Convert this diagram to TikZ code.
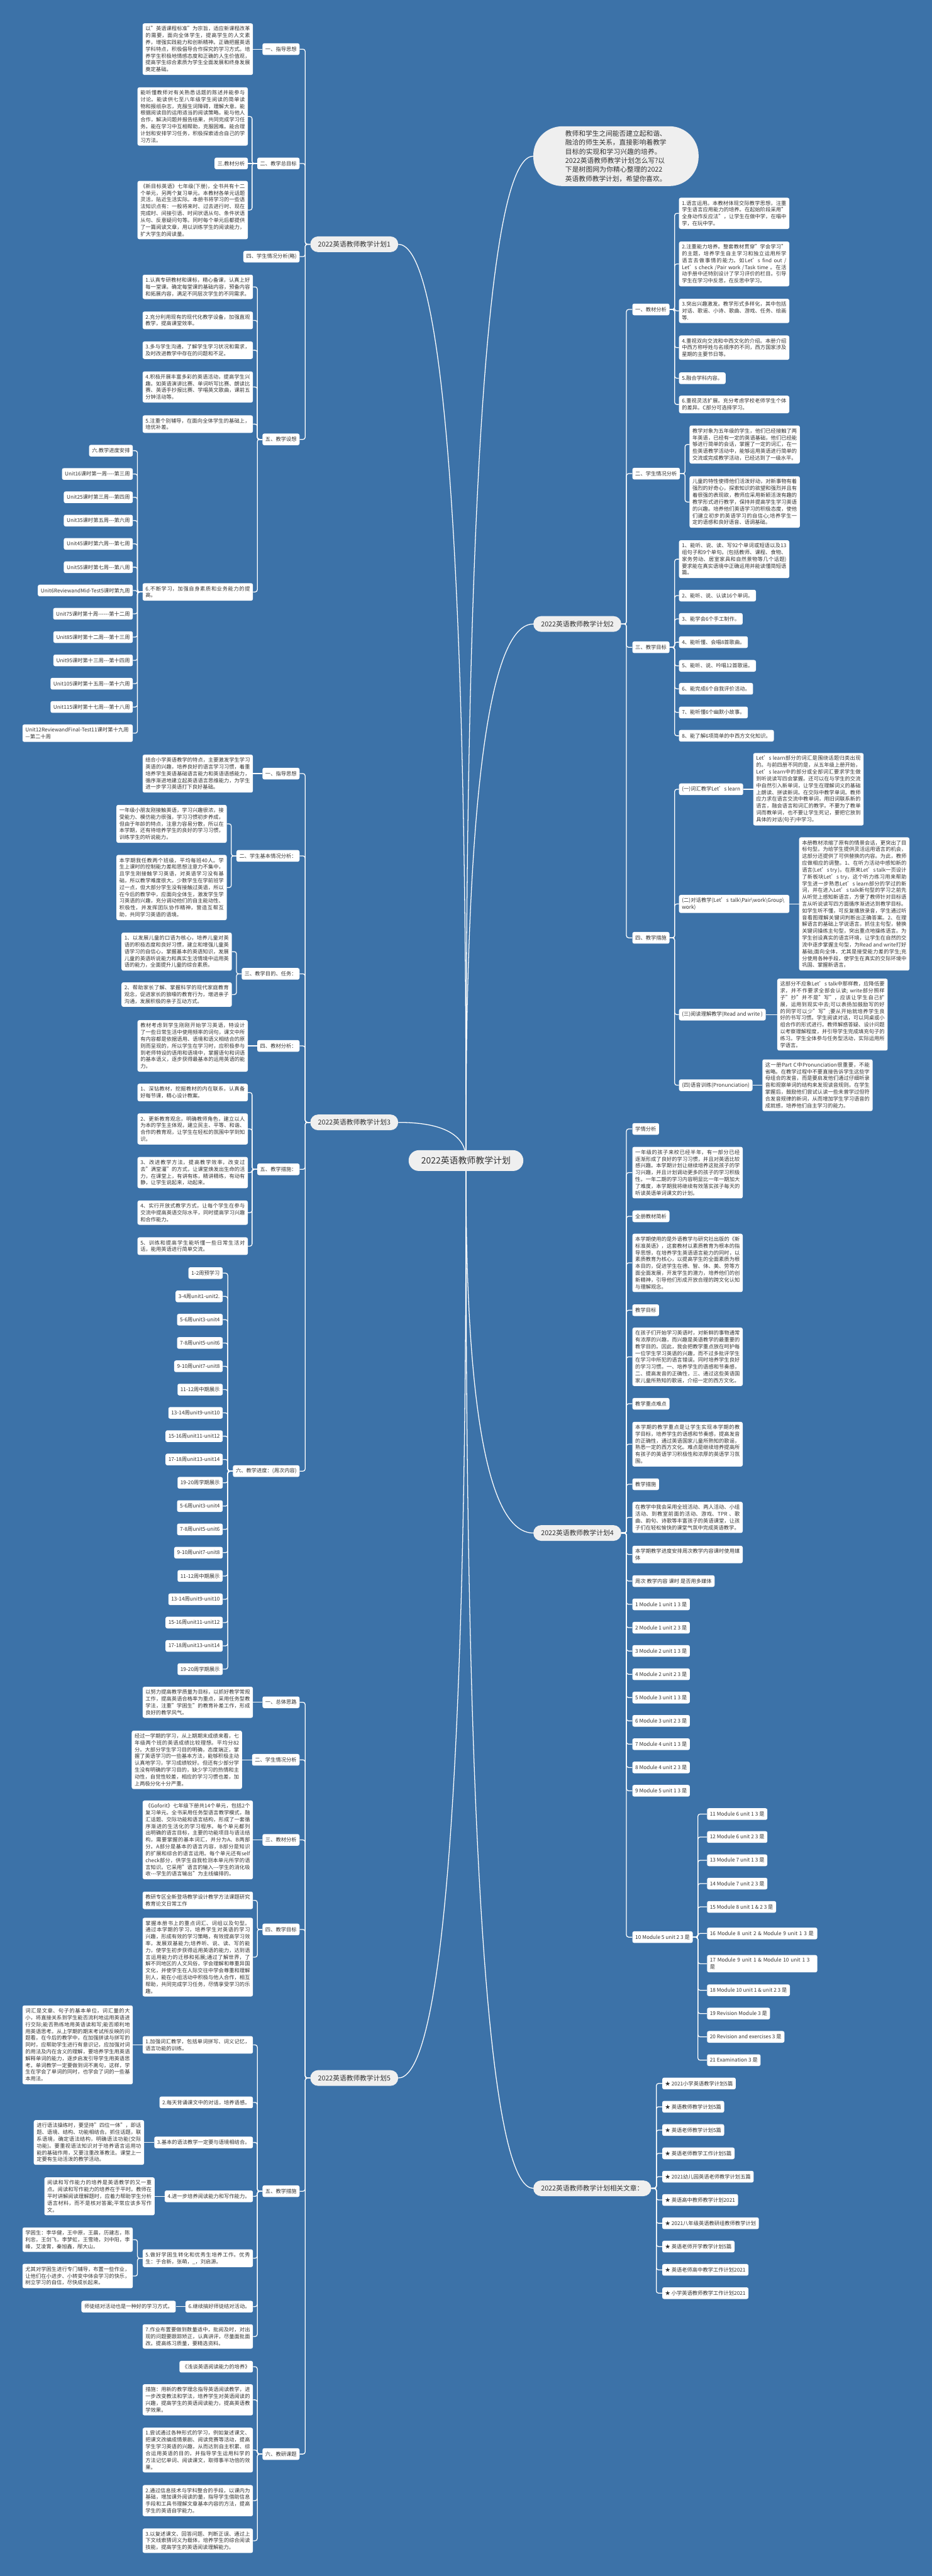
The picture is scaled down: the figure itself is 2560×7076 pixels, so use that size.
\documentclass[tikz,border=0pt]{standalone}
\usepackage{fontspec}
\setmainfont{Noto Sans CJK SC}
\usetikzlibrary{calc}
\XeTeXlinebreaklocale "zh"
\XeTeXlinebreakskip=0pt plus 1pt
\setlength{\parindent}{0pt}
\definecolor{bgc}{HTML}{3C72A8}
\definecolor{pillc}{HTML}{EFEFEF}
\definecolor{txt}{HTML}{333333}
\newcommand\fsA{\fontsize{14.3pt}{18.7pt}\selectfont}
\newcommand\fsM{\fontsize{18.5pt}{24.9pt}\selectfont}
\newcommand\fsR{\fontsize{24pt}{30pt}\selectfont}
\pgfdeclarelayer{bgl}
\pgfsetlayers{bgl,main}
\tikzset{
 bx/.style={fill=white, text=txt, font=\fsA, rounded corners=5pt, inner xsep=8pt, inner ysep=8pt, minimum height=32pt},
 lb/.style={bx, anchor=east},
 rb/.style={bx, anchor=west},
 lt/.style={bx, anchor=east, text width=287pt, align=justify},
 rt/.style={bx, anchor=west, text width=287pt, align=justify},
 pill/.style={fill=pillc, text=txt, font=\fsM, rounded corners=21pt, inner xsep=21pt, inner ysep=4pt, minimum height=43pt},
 ln/.style={draw=white, line width=2.2pt},
}
\newcommand\conL[2]{\draw[ln,rounded corners=6pt] (#1.west) -- ++(-14,0) |- (#2.east);}
\newcommand\conR[2]{\draw[ln,rounded corners=6pt] (#1.east) -- ++(14,0) |- (#2.west);}
\newcommand\strL[2]{\draw[ln] (#1.west) -- (#2.east);}
\newcommand\strR[2]{\draw[ln] (#1.east) -- (#2.west);}
\newcommand\rootL[1]{\draw[ln] (#1.east) .. controls (#1.east -| root.center) and ($(#1.east -| root.center)!0.75!(root.center)$) .. (root.center);}
\newcommand\rootR[1]{\draw[ln] (#1.west) .. controls (#1.west -| root.center) and ($(#1.west -| root.center)!0.75!(root.center)$) .. (root.center);}
\begin{document}
\begin{tikzpicture}[x=1pt,y=-1pt]
\path[use as bounding box] (0,0) rectangle (2560,7076);
\begin{pgfonlayer}{bgl}
\fill[bgc] (0,0) rectangle (2560,7076);
\end{pgfonlayer}

% ---------- root and main branches
\node[fill=pillc,text=txt,font=\fsR,rounded corners=28pt,minimum width=315pt,minimum height=57pt,inner sep=0pt] (root) at (1280,3188) {2022英语教师教学计划};
\node[fill=pillc,text=txt,font=\fsM,rounded corners=80pt,text width=278pt,inner xsep=88pt,inner ysep=11pt,align=left] (intro) at (1692,429) {教师和学生之间能否建立起和谐、融洽的师生关系，直接影响着教学目标的实现和学习兴趣的培养。2022英语教师教学计划怎么写?以下是树图网为你精心整理的2022英语教师教学计划，希望你喜欢。};
\node[pill,anchor=east] (p1) at (1094,671) {2022英语教师教学计划1};
\node[pill,anchor=east] (p3) at (1094,3083) {2022英语教师教学计划3};
\node[pill,anchor=east] (p5) at (1094,5708) {2022英语教师教学计划5};
\node[pill,anchor=west] (p2) at (1465,1714) {2022英语教师教学计划2};
\node[pill,anchor=west] (p4) at (1465,4211) {2022英语教师教学计划4};
\node[pill,anchor=west] (p6) at (1465,6011) {2022英语教师教学计划相关文章：};

% ---------- plan 1
\node[lb] (a1) at (823,135) {一、指导思想};
\node[lt] (a1t) at (695,135) {以"英语课程标准"为宗旨，适应新课程改革的需要，面向全体学生，提高学生的人文素养，增强实践能力和创新精神。正确把握英语学科特点，积极倡导合作探究的学习方式。培养学生积极地情感态度和正确的人生价值观，提高学生综合素质为学生全面发展和终身发展奠定基础。};
\node[lb] (a2) at (823,449) {二、教学总目标};
\node[lt] (a2a) at (681,320) {能听懂教师对有关熟悉话题的陈述并能参与讨论。能读供七至八年级学生阅读的简单读物和报纸杂志，克服生词障碍，理解大意。能根据阅读目的运用适当的阅读策略。能与他人合作，解决问题并报告结果，共同完成学习任务。能在学习中互相帮助，克服困难。能合理计划和安排学习任务，积极探索适合自己的学习方法。};
\node[lb] (a2b) at (681,449) {三.教材分析};
\node[lt] (a2c) at (681,577) {《新目标英语》七年级(下册)，全书共有十二个单元，另两个复习单元。本教材各单元话题灵活，贴近生活实际。本册书将学习的一些语法知识点有：一般将来时、过去进行时、现在完成时、间接引语、时间状语从句、条件状语从句、反意疑问句等。同时每个单元后都提供了一篇阅读文章，用以训练学生的阅读能力，扩大学生的阅读量。};
\node[lb] (a3) at (823,705) {四、学生情况分析(略)};
\node[lb] (a4) at (823,1207) {五、教学设想};
\node[lt] (a4a) at (695,788) {1.认真专研教材和课标，精心备课，认真上好每一堂课。确定每堂课的基础内容，预备内容和拓展内容，满足不同层次学生的不同需求。};
\node[lt] (a4b) at (695,880) {2.充分利用现有的现代化教学设备，加强直观教学，提高课堂效率。};
\node[lt] (a4c) at (695,962) {3.多与学生沟通，了解学生学习状况和需求，及时改进教学中存在的问题和不足。};
\node[lt] (a4d) at (695,1063) {4.积极开展丰富多彩的英语活动，提高学生兴趣。如英语演讲比赛、单词听写比赛、朗读比赛、英语手抄报比赛、学唱英文歌曲，课前五分钟活动等。};
\node[lt] (a4e) at (695,1165) {5.注重个别辅导，在面向全体学生的基础上，培优补差。};
\node[lt] (a4f) at (695,1626) {6.不断学习，加强自身素质和业务能力的提高。};
\node[lb] (u0) at (365,1238) {六.教学进度安排};
\node[lb] (u1) at (365,1302) {Unit16课时第一周-{}-{}-{}-第三周};
\node[lb] (u2) at (365,1366) {Unit25课时第三周-{}-{}-第四周};
\node[lb] (u3) at (365,1430) {Unit35课时第五周-{}-{}-第六周};
\node[lb] (u4) at (365,1494) {Unit45课时第六周-{}-{}-第七周};
\node[lb] (u5) at (365,1558) {Unit55课时第七周-{}-{}-第八周};
\node[lb] (u6) at (365,1622) {Unit6ReviewandMid-Test5课时第九周};
\node[lb] (u7) at (365,1686) {Unit75课时第十周-{}-{}-{}-{}-{}-第十二周};
\node[lb] (u8) at (365,1750) {Unit85课时第十二周-{}-{}-第十三周};
\node[lb] (u9) at (365,1814) {Unit95课时第十三周-{}-{}-第十四周};
\node[lb] (u10) at (365,1878) {Unit105课时第十五周-{}-{}-第十六周};
\node[lb] (u11) at (365,1942) {Unit115课时第十七周-{}-{}-第十八周};
\node[lt,align=left] (u12) at (365,2014) {Unit12ReviewandFinal-Test11课时第十九周—第二十周};

% ---------- plan 3
\node[lb] (b1) at (823,2125) {一、指导思想};
\node[lt] (b1t) at (695,2125) {结合小学英语教学的特点，主要激发学生学习英语的兴趣，培养良好的语言学习习惯，着重培养学生英语基础语言能力和英语语感能力，循序渐进地建立起英语语言思维能力，为学生进一步学习英语打下良好基础。};
\node[lb] (b2) at (823,2351) {二、学生基本情况分析：};
\node[lt] (b2a) at (623,2263) {一年级小朋友刚接触英语，学习兴趣很浓，接受能力、模仿能力很强，学习习惯初步养成，但由于年龄的特点，注意力容易分散，所以在本学期，还有待培养学生的良好的学习习惯，训练学生的听说能力。};
\node[lt] (b2b) at (623,2438) {本学期我任教两个班级，平均每班40人。学生上课时的控制能力差和思想注意力不集中，且学生刚接触学习英语，对英语学习没有基础，所以教学难度很大。少数学生在学前班学过一点，但大部分学生没有接触过英语，所以在今后的教学中，应面向全体生，激发学生学习英语的兴趣，充分调动他们的自主能动性、积极性，并发挥团队协作精神，营造互帮互助，共同学习英语的语境。};
\node[lb] (b3) at (823,2675) {三、教学目的、任务：};
\node[lt] (b3a) at (637,2614) {1、以发展儿童的口语为核心，培养儿童对英语的积极态度和良好习惯，建立和增强儿童英语学习的自信心，掌握基本的英语知识，发展儿童的英语听说能力和真实生活情境中运用英语的能力，全面提升儿童的综合素质。};
\node[lt] (b3b) at (637,2732) {2、帮助家长了解、掌握科学的现代家庭教育观念，促进家长的狼嚎的教育行为，增进亲子沟通，发展积极的亲子互动方式。};
\node[lb] (b4) at (823,2873) {四、教材分析：};
\node[lt] (b4t) at (681,2873) {教材考虑到学生刚刚开始学习英语，特设计了一些日常生活中使用频率的词句，课文中所有内容都是依据语用、语境和语义相结合的原则而呈现的，所以学生在学习时，应积极参与到老师特设的语用和语境中，掌握语句和词语的基本语义，逐步获得最基本的运用英语的能力。};
\node[lb] (b5) at (823,3212) {五、教学措施：};
\node[lt] (b5a) at (681,3001) {1、深钻教材，挖掘教材的内在联系，认真备好每节课，精心设计教案。};
\node[lt] (b5b) at (681,3101) {2、更新教育观念，明确教师角色，建立以人为本的学生主体观，建立民主、平等、和谐、合作的教育观，让学生在轻松的氛围中学到知识。};
\node[lt] (b5c) at (681,3221) {3、改进教学方法，提高教学效率，改变过去"满堂灌"的方式，让课堂焕发出生命的活力，在课堂上，有讲有练，精讲精练，有动有静，让学生说起来，动起来。};
\node[lt] (b5d) at (681,3331) {4、实行开放式教学方式，让每个学生在参与交流中提高英语交际水平，同时提高学习兴趣和合作能力。};
\node[lt] (b5e) at (681,3423) {5、训练和提高学生能听懂一些日常生活对话，能用英语进行简单交流。};
\node[lb] (b6) at (823,4041) {六、教学进度：(周次内容)};
\foreach \t [count=\i] in {1-2周预学习,3-4周unit1-unit2.,5-6周unit3-unit4,7-8周unit5-unit6,9-10周unit7-unit8,11-12周中期展示,13-14周unit9-unit10,15-16周unit11-unit12,17-18周unit13-unit14,19-20周学期展示,5-6周unit3-unit4,7-8周unit5-unit6,9-10周unit7-unit8,11-12周中期展示,13-14周unit9-unit10,15-16周unit11-unit12,17-18周unit13-unit14,19-20周学期展示}
  {\node[lb] (bw\i) at (612,{3433+64*\i}) {\t};}

% ---------- plan 5
\node[lb] (c1) at (823,4676) {一、总体思路};
\node[lt] (c1t) at (695,4676) {以努力提高教学质量为目标，以抓好教学常规工作，提高英语合格率为重点，采用任务型教学法，注重"学困生"的教育补差工作，形成良好的教学风气。};
\node[lb] (c2) at (823,4834) {二、学生情况分析};
\node[lt] (c2t) at (665,4834) {经过一学期的学习，从上期期末成绩来看，七年级两个班的英语成绩比较理想。平均分82分。大部分学生学习目的明确，态度端正，掌握了英语学习的一些基本方法，能够积极主动认真地学习，学习成绩较好。但还有少部分学生没有明确的学习目的，缺少学习的热情和主动性，自觉性较差，相应的学习习惯也差，加上两极分化十分严重。};
\node[lb] (c3) at (823,5054) {三、教材分析};
\node[lt] (c3t) at (695,5054) {《Goforit》七年级下册共14个单元，包括2个复习单元。全书采用任务型语言教学模式，融汇话题、交际功能和语言结构，形成了一套循序渐进的生活化的学习程序。每个单元都列出明确的语言目标，主要的功能项目与语法结构，需要掌握的基本词汇，并分为A、B两部分。A部分是基本的语言内容，B部分是知识的扩展和综合的语言运用。每个单元还有self check部分，供学生自我检测本单元所学的语言知识。它采用"语言的输入-{}-{}-学生的消化吸收-{}-{}-学生的语言输出"为主线编排的。};
\node[lb] (c4) at (823,5300) {四、教学目标};
\node[lt] (c4a) at (695,5220) {教研专区全新登场教学设计教学方法课题研究教育论文日常工作};
\node[lt] (c4b) at (695,5376) {掌握本册书上的重点词汇、词组以及句型。通过本学期的学习，培养学生对英语的学习兴趣，形成有效的学习策略，有效提高学习效率，发展双基能力;培养听、说、读、写的能力，使学生初步获得运用英语的能力，达到语言运用能力的迁移和拓展;通过了解世界，了解不同地区的人文风俗，学会理解和尊重异国文化，并使学生在人际交往中学会尊重和理解别人，能在小组活动中积极与他人合作，相互帮助，共同完成学习任务，尽情享受学习的乐趣。};
\node[lb] (c5) at (823,6019) {五、教学措施};
\node[lt] (c5a) at (695,5617) {1.加强词汇教学，包括单词拼写、词义记忆，语言功能的训练。};
\node[lt] (c5at) at (365,5617) {词汇是文章、句子的基本单位，词汇量的大小，将直接关系到学生能否流利地运用英语进行交际;能否熟练地用英语读和写;能否顺利地用英语思考。从上学期的期末考试所反映的问题看，在今后的教学中，在加强拼读与拼写的同时，应帮助学生进行有意识记，应加强对词的用法及内在含义的理解，要培养学生用英语解释单词的能力，逐步启发引导学生用英语思考。单词教学一定要做到词不离句，这样，学生在学会了单词的同时，也学会了词的一些基本用法。};
\node[lb] (c5b) at (695,5775) {2.每天背诵课文中的对话，培养语感。};
\node[lb] (c5c) at (695,5885) {3.基本的语法教学一定要与语境相结合。};
\node[lt] (c5ct) at (396,5885) {进行语法操练时，要坚持"四位一体"，即话题、语境、结构、功能相结合。抓住话题，联系语境，确定语法结构，明确语法功能(交际功能)。要重视语法知识对于培养语言运用功能的基础作用，又要注重改革教法。课堂上一定要有生动活泼的教学活动。};
\node[lb] (c5d) at (695,6033) {4.进一步培养阅读能力和写作能力。};
\node[lt] (c5dt) at (425,6033) {阅读和写作能力的培养是英语教学的又一重点。阅读和写作能力的培养在于平时。教师在平时讲解阅读理解题时，应着力帮助学生分析语言材料，而不是核对答案;平常应该多写作文。};
\node[lt] (c5e) at (695,6203) {5.做好学困生转化和优秀生培养工作。优秀生：于合新，张萌，\_，刘启源。};
\node[lt] (c5ea) at (365,6152) {学困生：李华健，王中原，王晨，历建志，陈利忠，王剑飞，李梦虹，王雪琦，刘中阳，李峰，艾凌霄，秦旭鑫，邴大山。};
\node[lt] (c5eb) at (365,6252) {尤其对学困生进行专门辅导，布置一些作业，让他们在小进步、小转变中体会学习的快乐，树立学习的自信，尽快成长起来。};
\node[lb] (c5f) at (695,6336) {6.继续搞好师徒结对活动。};
\node[lb] (c5ft) at (483,6336) {师徒结对活动也是一种好的学习方式。};
\node[lt] (c5g) at (695,6418) {7.作业布置要做到数量适中，批阅及时，对出现的问题要跟踪矫正，认真讲评，尽量面批面改。提高练习质量，要精选资料。};
\node[lb] (c6) at (823,6741) {六、教研课题};
\node[lb] (c6a) at (695,6501) {《浅谈英语阅读能力的培养》};
\node[lt] (c6b) at (695,6592) {措施：用新的教学理念指导英语阅读教学，进一步改变教法和学法，培养学生对英语阅读的兴趣，提高学生的英语阅读能力，提高英语教学效果。};
\node[lt] (c6c) at (695,6730) {1.尝试通过各种形式的学习，例如复述课文、把课文改编成情景剧、阅读竞赛等活动，提高学生学习英语的兴趣，从而达到自主积累、综合运用英语的目的，并指导学生运用科学的方法记忆单词、阅读课文，取得事半功倍的效果。};
\node[lt] (c6d) at (695,6869) {2.通过信息技术与学科整合的手段，以课内为基础，增加课外阅读的量，指导学生借助信息手段和工具书理解文章基本内容的方法，提高学生的英语自学能力。};
\node[lt] (c6e) at (695,6979) {3.以复述课文、回答问题、判断正误、通过上下文线索猜词义为载体，培养学生的综合阅读技能，提高学生的英语阅读理解能力。};

% ---------- plan 2
\node[rb] (d1) at (1737,850) {一、教材分析};
\node[rt] (d1a) at (1865,586) {1.语言运用。本教材体现交际教学思想，注重学生语言应用能力的培养。在起始阶段采用"全身动作反应法"，让学生在做中学，在唱中学，在玩中学。};
\node[rt] (d1b) at (1865,725) {2.注重能力培养。整套教材贯穿"学会学习"的主题，培养学生自主学习和独立运用所学语言去做事情的能力。如Let’s find out /Let’s check /Pair work /Task time 。在活动手册中还特别设计了学习评价的栏目。引导学生在学习中反思，在反思中学习。};
\node[rt] (d1c) at (1865,854) {3.突出兴趣激发。教学形式多样化，其中包括对话、歌谣、小诗、歌曲、游戏、任务、绘画等.};
\node[rt] (d1d) at (1865,955) {4.重视双向交流和中西文化的介绍。本册介绍中西方称呼姓与名顺序的不同，西方国家涉及星期的主要节日等。};
\node[rb] (d1e) at (1865,1039) {5.融合学科内容。};
\node[rt] (d1f) at (1865,1111) {6.重视灵活扩展。充分考虑学校老师学生个体的差异。C部分可选择学习。};
\node[rb] (d2) at (1737,1301) {二、学生情况分析};
\node[rt] (d2a) at (1894,1221) {教学对象为五年级的学生，他们已经接触了两年英语，已经有一定的英语基础，他们已经能够进行简单的会话，掌握了一定的词汇，在一些英语教学活动中，能够运用英语进行简单的交流或完成教学活动，已经达到了一级水平。};
\node[rt] (d2b) at (1894,1379) {儿童的特性使得他们活泼好动，对新事物有着强烈的好奇心，探索知识的欲望和强烈并且有着很强的表现欲，教师应采用新颖活泼有趣的教学形式进行教学，保持并提高学生学习英语的兴趣。培养他们英语学习的积极态度，使他们建立初步的英语学习的自信心;培养学生一定的语感和良好语音、语调基础。};
\node[rb] (d3) at (1737,1778) {三、教学目标};
\node[rt] (d3a) at (1865,1536) {1、能听、说、读、写92个单词或短语以及13组句子和9个单句。(包括教师、课程、食物、家务劳动、居室家具和自然景物等几个话题)要求能在真实语境中正确运用并能读懂简短语篇。};
\node[rb] (d3b) at (1865,1636) {2、能听、说、认读16个单词。};
\node[rb] (d3c) at (1865,1700) {3、能学会6个手工制作。};
\node[rb] (d3d) at (1865,1764) {4、能听懂、会唱8首歌曲。};
\node[rb] (d3e) at (1865,1829) {5、能听、说、吟唱12首歌谣。};
\node[rb] (d3f) at (1865,1892) {6、能完成6个自我评价活动。};
\node[rb] (d3g) at (1865,1957) {7、能听懂6个幽默小故事。};
\node[rb] (d3h) at (1865,2021) {8、能了解6项简单的中西方文化知识。};
\node[rb] (d4) at (1737,2576) {四、教学措施};
\node[rb] (d4a) at (1865,2168) {(一)词汇教学Let’s learn};
\node[rt] (d4at) at (2069,2168) {Let’s learn部分的词汇是围绕话题归类出现的。与前四册不同的是，从五年级上册开始，Let’s learn中的部分或全部词汇要求学生做到听说读写四会掌握。还可以在与学生的交流中自然引入新单词，让学生在理解词义的基础上朗读、拼读新词。在交际中教学单词。教师应力求在语言交流中教单词，用旧词联系新的语言，融会语言和词汇的教学。不要为了教单词而教单词，也不要让学生死记，要把它放到具体的对话(句子)中学习。};
\node[rt,align=left] (d4b) at (1865,2483) {(二)对话教学(Let’s talk\textbackslash\allowbreak Pair\textbackslash\allowbreak work\textbackslash\allowbreak Group\textbackslash\allowbreak work)};
\node[rt] (d4bt) at (2195,2483) {本册教材浓缩了原有的情景会话，更突出了目标句型。为给学生提供灵活运用语言的机会，这部分还提供了可供替换的内容。为此，教师应做相应的调整。1、在听力活动中感知新的语言(Let’s try )。在原来Let’s talk一页设计了新板块Let’s try，这个听力练习用来帮助学生进一步熟悉Let’s learn部分的学过的新词，并在进入Let’s talk新句型的学习之前先从听觉上感知新语言，方便了教师针对目标语言从听说读写四方面循序渐进达到教学目标。如学生听不懂，可反复播放录音，学生通过听音看图理解关键词判断出正确答案。2、在理解语言的基础上学说语言。抓住主句型，替换关键词操练主句型，突出重点地操练语言。为学生创设真实的语言环境，让学生在自然的交流中逐步掌握主句型，为Read and write打好基础;面向全体，尤其是接受能力差的学生;充分使用各种手段，使学生在真实的交际环境中巩固、掌握新语言。};
\node[rb] (d4c) at (1865,2787) {(三)阅读理解教学(Read and write )};
\node[rt] (d4ct) at (2135,2787) {这部分不应象Let’s talk中那样教，应降低要求，并不作要求全部会认读; write部分照样子"抄"并不是"写"，应该让学生自己扩展，运用到现实中去;可以表扬加鼓励写的好的同学可以少"写";要从开始就培养学生良好的书写习惯。学生阅读对话，可以同桌或小组合作的形式进行。教师解惑答疑、设计问题以考察理解程度，并引导学生完成填充句子的练习。学生全体参与任务型活动，实际运用所学语言。};
\node[rb] (d4d) at (1865,2981) {(四)语音训练(Pronunciation)};
\node[rt] (d4dt) at (2094,2981) {这一册Part C中Pronunciation很重要，不能省略。在教学过程中不要直接告诉学生这些字母组合的发音，而是要启发他们通过仔细听录音和观察单词的结构来发现读音规则。在学生掌握后，鼓励他们尝试认读一些未曾学过但符合发音规律的新词，从而增加学生学习语音的成就感，培养他们自主学习的能力。};

% ---------- plan 4
\node[rb] (e1) at (1737,3101) {学情分析};
\node[rt] (e2) at (1737,3221) {一年级的孩子来校已经半年，有一部分已经逐渐形成了良好的学习习惯，并且对英语比较感兴趣。本学期计划让继续培养这批孩子的学习兴趣，并且计划调动更多的孩子的学习积极性。一年二期的学习内容明显比一年一期加大了难度，本学期我将继续有效落实孩子每天的听读英语单词课文的计划。};
\node[rb] (e3) at (1737,3341) {全册教材简析};
\node[rt] (e4) at (1737,3469) {本学期使用的是外语教学与研究社出版的《新标准英语》，这套教材以素质教育为根本的指导思想，在培养学生英语语言能力的同时，以素质教育为核心，以提高学生的全面素质为根本目的，促进学生在德、智、体、美、劳等方面全面发展，开发学生的潜力，培养他们的创新精神，引导他们形成开放合理的跨文化认知与理解观念。};
\node[rb] (e5) at (1737,3599) {教学目标};
\node[rt] (e6) at (1737,3727) {在孩子们开始学习英语时，对新鲜的事物通常有浓厚的兴趣，而兴趣是英语教学的最重要的教学目的。因此，我会把教学重点放在呵护每一位学生学习英语的兴趣，而不过多批评学生在学习中所犯的语言错误。同时培养学生良好的学习习惯。一、培养学生的语感和节奏感，二、提高发音的正确性，三、通过这些英语国家儿童所熟知的歌谣，介绍一定的西方文化。};
\node[rb] (e7) at (1737,3856) {教学重点难点};
\node[rt] (e8) at (1737,3967) {本学期的教学重点是让学生实现本学期的教学目标，培养学生的语感和节奏感，提高发音的正确性，通过英语国家儿童所熟知的歌谣，熟悉一定的西方文化。难点是继续培养提高所有孩子的英语学习积极性和浓厚的英语学习氛围。};
\node[rb] (e9) at (1737,4077) {教学措施};
\node[rt] (e10) at (1737,4168) {在教学中我会采用全班活动、两人活动、小组活动、到教室前面的活动、游戏、TPR 、歌曲、韵句、诗歌等丰富孩子的英语课堂，让孩子们在轻松愉快的课堂气氛中完成英语教学。};
\node[rt] (e11) at (1737,4270) {本学期教学进度安排周次教学内容课时使用媒体};
\node[rb] (e12) at (1737,4343) {周次 教学内容 课时 是否用多媒体};
\foreach \t [count=\i] in {1 Module 1 unit 1 3 是,2 Module 1 unit 2 3 是,3 Module 2 unit 1 3 是,4 Module 2 unit 2 3 是,5 Module 3 unit 1 3 是,6 Module 3 unit 2 3 是,7 Module 4 unit 1 3 是,8 Module 4 unit 2 3 是,9 Module 5 unit 1 3 是}
  {\node[rb] (m\i) at (1737,{4343+64*\i}) {\t};}
\node[rb] (m10) at (1737,5321) {10 Module 5 unit 2 3 是};
\node[rb] (n11) at (1942,4983) {11 Module 6 unit 1 3 是};
\node[rb] (n12) at (1942,5046) {12 Module 6 unit 2 3 是};
\node[rb] (n13) at (1942,5110) {13 Module 7 unit 1 3 是};
\node[rb] (n14) at (1942,5174) {14 Module 7 unit 2 3 是};
\node[rb] (n15) at (1942,5238) {15 Module 8 unit 1 \& 2 3 是};
\node[rt,align=left] (n16) at (1942,5311) {16 Module 8 unit 2 \& Module 9 unit 1 3 是};
\node[rt,align=left] (n17) at (1942,5394) {17 Module 9 unit 1 \& Module 10 unit 1 3 是};
\node[rb] (n18) at (1942,5467) {18 Module 10 unit 1 \& unit 2 3 是};
\node[rb] (n19) at (1942,5531) {19 Revision Module 3 是};
\node[rb] (n20) at (1942,5595) {20 Revision and exercises 3 是};
\node[rb] (n21) at (1942,5659) {21 Examination 3 是};

% ---------- related articles
\foreach \t [count=\i] in {★ 2021小学英语教学计划5篇,★ 英语教师教学计划5篇,★ 英语老师教学计划5篇,★ 英语老师教学工作计划5篇,★ 2021幼儿园英语老师教学计划五篇,★ 英语高中教师教学计划2021,★ 2021八年级英语教研组教师教学计划,★ 英语老师开学教学计划5篇,★ 英语老师高中教学工作计划2021,★ 小学英语教师教学工作计划2021}
  {\node[rb] (f\i) at (1819,{5659+64*\i}) {\t};}

% ---------- connectors
\begin{pgfonlayer}{bgl}
\rootL{p1} \rootL{p3} \rootL{p5}
\rootR{intro} \rootR{p2} \rootR{p4} \rootR{p6}
% plan 1
\foreach \ch in {a1,a2,a3,a4} {\conL{p1}{\ch}}
\strL{a1}{a1t}
\conL{a2}{a2a} \strL{a2}{a2b} \conL{a2}{a2c}
\foreach \ch in {a4a,a4b,a4c,a4d,a4e,a4f} {\conL{a4}{\ch}}
\foreach \i in {0,...,12} {\conL{a4f}{u\i}}
% plan 3
\foreach \ch in {b1,b2,b3,b4,b5,b6} {\conL{p3}{\ch}}
\strL{b1}{b1t}
\conL{b2}{b2a} \conL{b2}{b2b}
\conL{b3}{b3a} \conL{b3}{b3b}
\strL{b4}{b4t}
\foreach \ch in {b5a,b5b,b5c,b5d,b5e} {\conL{b5}{\ch}}
\foreach \i in {1,...,18} {\conL{b6}{bw\i}}
% plan 5
\foreach \ch in {c1,c2,c3,c4,c5,c6} {\conL{p5}{\ch}}
\strL{c1}{c1t} \strL{c2}{c2t} \strL{c3}{c3t}
\conL{c4}{c4a} \conL{c4}{c4b}
\foreach \ch in {c5a,c5b,c5c,c5d,c5e,c5f,c5g} {\conL{c5}{\ch}}
\strL{c5a}{c5at} \strL{c5c}{c5ct} \strL{c5d}{c5dt} \strL{c5f}{c5ft}
\conL{c5e}{c5ea} \conL{c5e}{c5eb}
\foreach \ch in {c6a,c6b,c6c,c6d,c6e} {\conL{c6}{\ch}}
% plan 2
\foreach \ch in {d1,d2,d3,d4} {\conR{p2}{\ch}}
\foreach \ch in {d1a,d1b,d1c,d1d,d1e,d1f} {\conR{d1}{\ch}}
\conR{d2}{d2a} \conR{d2}{d2b}
\foreach \ch in {d3a,d3b,d3c,d3d,d3e,d3f,d3g,d3h} {\conR{d3}{\ch}}
\foreach \ch in {d4a,d4b,d4c,d4d} {\conR{d4}{\ch}}
\strR{d4a}{d4at} \strR{d4b}{d4bt} \strR{d4c}{d4ct} \strR{d4d}{d4dt}
% plan 4
\foreach \ch in {e1,e2,e3,e4,e5,e6,e7,e8,e9,e10,e11,e12} {\conR{p4}{\ch}}
\foreach \i in {1,...,10} {\conR{p4}{m\i}}
\foreach \i in {11,...,21} {\conR{m10}{n\i}}
% related
\foreach \i in {1,...,10} {\conR{p6}{f\i}}
\end{pgfonlayer}
\end{tikzpicture}
\end{document}
